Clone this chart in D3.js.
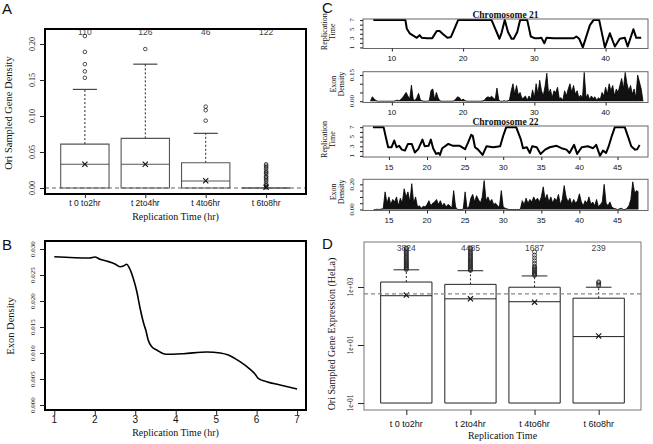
<!DOCTYPE html>
<html><head><meta charset="utf-8">
<script src="https://cdn.jsdelivr.net/npm/d3@7"></script>
<style>body{margin:0;background:#fff}svg{display:block}</style>
</head><body>
<svg id="c" width="653" height="444"></svg>
<script>
// ---------------- DATA ----------------
const timeCats = ["t 0 to2hr","t 2to4hr","t 4to6hr","t 6to8hr"];

// Panel A: Ori sampled gene density boxplots
const aCounts = ["110","126","46","122"];
const aQ1 = [0, 0, 0, 0];
const aMedian = [0.033, 0.033, 0.0097, 0];
const aQ3 = [0.061, 0.069, 0.035, 0];
const aWhiskHi = [0.137, 0.172, 0.076, 0];
const aMean = [0.033, 0.033, 0.010, 0.001];
const aOutliers = [
  [0.153, 0.162, 0.172, 0.189, 0.211],
  [0.193],
  [0.0935, 0.108, 0.113],
  [0.001, 0.003, 0.004, 0.006, 0.009, 0.011, 0.013, 0.015, 0.016, 0.019, 0.021, 0.022, 0.024, 0.027, 0.029, 0.031, 0.033]
];
const aYTicks = [0, 0.05, 0.10, 0.15, 0.20];

// Panel B: exon density vs replication time
const bTime = [1.0, 1.88, 2.0, 2.13, 2.29, 2.5, 2.62, 2.71, 2.79, 2.85, 2.95, 3.04, 3.12, 3.22, 3.26, 3.32, 3.41, 3.53, 3.76, 4.19, 4.77, 5.1, 5.3, 5.59, 5.84, 5.96, 6.04, 6.25, 6.58, 7.0];
const bDensity = [0.02852, 0.02827, 0.02846, 0.02802, 0.02769, 0.02712, 0.0266, 0.02673, 0.02706, 0.0264, 0.02437, 0.02179, 0.0186, 0.01538, 0.01442, 0.0125, 0.0112, 0.01058, 0.00975, 0.00987, 0.0102, 0.0100, 0.00962, 0.00833, 0.00686, 0.00596, 0.00513, 0.00449, 0.00385, 0.00308];
const bXTicks = [1, 2, 3, 4, 5, 6, 7];
const bYTicks = [0, 0.005, 0.010, 0.015, 0.020, 0.025, 0.030];

// Panel C: chromosome profiles  [position (Mb), replication time]
const chr21Rep = [[7.4,7],[11.9,7],[12.1,5.1],[12.5,4.1],[13.0,3.6],[13.5,3.1],[13.9,3.7],[14.2,3.1],[14.9,3.0],[15.6,3.0],[15.7,3.1],[16.3,4.6],[16.7,4.6],[17.2,3.9],[17.8,3.1],[18.3,3.3],[18.9,5.5],[19.3,7],[24.0,7],[24.5,5.1],[25.1,2.9],[25.4,4.2],[25.85,7],[26.3,4.4],[26.8,2.9],[27.1,2.9],[27.6,4.4],[28.0,7],[29.0,7],[29.5,3.4],[30.1,3.0],[30.6,3.0],[31.0,3.1],[31.4,1.9],[31.7,3.1],[32.7,3.0],[35.5,3.0],[35.9,3.4],[36.3,2.9],[36.8,1.0],[37.8,5.9],[38.3,7],[39.1,7],[39.9,1.0],[40.6,4.1],[41.3,1.2],[42.0,2.9],[42.7,3.1],[43.1,1.2],[43.9,5.0],[44.3,3.1],[45.0,3.1]];
const chr22Rep = [[12.9,7],[14.3,7],[14.6,4.9],[14.9,2.8],[15.35,2.8],[15.7,4.2],[16.0,2.8],[16.35,3.1],[16.7,2.3],[17.1,2.1],[17.5,3.5],[18.0,3.5],[18.4,1.7],[18.85,2.4],[19.4,4.4],[19.7,3.0],[20.2,3.1],[20.5,4.4],[20.8,2.6],[21.2,1.4],[21.5,1.6],[21.7,1.2],[22.0,2.6],[22.8,3.5],[23.4,3.1],[24.3,3.1],[25.0,2.4],[25.4,3.8],[25.8,5.4],[26.0,5.2],[26.3,2.8],[26.7,2.3],[27.3,1.2],[27.8,3.0],[28.7,2.8],[29.6,3.0],[30.0,5.2],[30.4,7],[31.7,7],[32.3,4.5],[32.6,2.6],[33.1,2.8],[33.5,1.6],[33.8,3.0],[34.4,2.8],[34.9,1.4],[35.5,2.3],[36.1,2.8],[37.0,3.1],[37.65,2.6],[38.3,2.3],[38.7,1.6],[39.3,3.3],[39.7,1.4],[40.3,2.8],[41.1,3.0],[41.8,2.6],[42.2,3.3],[42.7,1.0],[43.1,2.1],[43.5,1.6],[43.8,2.8],[44.2,4.9],[44.65,7],[45.95,7],[46.4,4.9],[46.8,3.0],[47.3,2.3],[47.6,2.4],[47.9,3.3]];
const exonBinStep = 0.25;
const chr21ExonStart = 7.0;
const chr21Exon = [0,0.025,0.015,0.004, 0,0,0,0, 0,0,0,0, 0,0,0.003,0.006, 0.002,0.01,0.02,0.035, 0.05,0.03,0.012,0.092, 0.01,0.004,0.02,0.045, 0.008,0.002,0,0, 0,0.003,0.062,0.07, 0.01,0.05,0.018,0.002, 0,0,0,0, 0,0,0,0.003, 0.015,0.025,0.02,0.005, 0.012,0.004,0,0, 0,0,0,0, 0,0,0,0.002, 0.005,0.02,0.025,0.02, 0.028,0.018,0.01,0.075, 0.008,0,0,0.003, 0,0.002,0.006,0.06, 0.1,0.04,0.09,0.035, 0.05,0.015,0.02,0.03, 0.005,0.03,0.01,0.065, 0.02,0.1,0.04,0.12, 0.06,0.03,0.085,0.16, 0.04,0.07,0.02,0.06, 0.05,0.08,0.015,0.02, 0.005,0.06,0.03,0.07, 0.1,0.05,0.09,0.04, 0.06,0.02,0.035,0.015, 0.165,0.02,0.04,0.01, 0.03,0.015,0.025,0.005, 0.02,0.01,0.05,0.03, 0.08,0.04,0.1,0.06, 0.09,0.03,0.07,0.05, 0.09,0.13,0.07,0.165, 0.1,0.06,0.09,0.04, 0.07,0.02,0.15,0.11, 0.07,0];
const chr22ExonStart = 13.0;
const chr22Exon = [0,0,0.002,0, 0.004,0.006,0.14,0.05, 0.1,0.04,0.08,0.06, 0.1,0.03,0.09,0.05, 0.165,0.1,0.14,0.06, 0.205,0.05,0.1,0.02, 0.03,0.01,0.025,0.02, 0.04,0.07,0.03,0.05, 0.06,0.08,0.04,0.07, 0.03,0.05,0.02,0.04, 0.03,0.01,0.15,0.02, 0,0,0,0.002, 0.14,0.01,0.02,0.09, 0.12,0.06,0.11,0.08, 0.05,0.1,0.23,0.07, 0.1,0.06,0.08,0.04, 0.05,0.03,0.02,0.15, 0.02,0.01,0.005,0, 0,0,0,0, 0,0.002,0.07,0.04, 0.09,0.05,0.08,0.06, 0.1,0.07,0.09,0.06, 0.1,0.18,0.08,0.12, 0.06,0.1,0.05,0.09, 0.07,0.12,0.04,0.08, 0.19,0.1,0.06,0.09, 0.04,0.08,0.05,0.07, 0.125,0.06,0.03,0.07, 0.05,0.1,0.04,0.06, 0.03,0.08,0.02,0.04, 0.06,0.2,0.05,0.03, 0.06,0.02,0.01,0.005, 0,0.005,0.01,0, 0,0.01,0.03,0.08, 0.22,0.13,0.15,0.14];
const chr21XTicks = [10, 20, 30, 40];
const chr22XTicks = [15, 20, 25, 30, 35, 40, 45];
const repYTicks = [1, 2, 3, 4, 5, 6, 7];
const repYLabels = [1, 3, 5, 7];
const chr21ExonTicks = [0, 0.05, 0.10, 0.15];
const chr21ExonLabels = [0, 0.15];
const chr22ExonTicks = [0, 0.05, 0.10, 0.15, 0.20];
const chr22ExonLabels = [0, 0.20];

// Panel D: Ori sampled gene expression (HeLa), log scale
const dCounts = ["3824","4485","1687","239"];
const dQ1 = [0.1, 0.1, 0.1, 0.1];
const dMedian = [500, 390, 310, 19.5];
const dQ3 = [1480, 1230, 980, 410];
const dWhiskHi = [3900, 3630, 2400, 980];
const dMean = [525, 390, 300, 20.4];
const dOutliers = [
  [4000,4300,4600,5000,5400,5800,6300,6800,7400,8000,8700,9500,10500,11500,12700,14000,15500,17000,19000,21000,22000],
  [3700,4000,4300,4700,5100,5500,6000,6500,7100,7800,8500,9300,10200,11200,12400,13700,15200,17000,19000,21000,22000],
  [2500,2700,2900,3100,3400,3700,4000,4400,4800,5300,6500,8000,10000,12500,16000],
  [1120,1250,1400,1500]
];
const dYTicks = [0.1, 10, 1000];
const dYLabels = ["1e-01","1e+01","1e+03"];
const dRefLine = 575;

// ---------------- DRAWING ----------------
const svg = d3.select("#c");
const SANS = "'Liberation Sans', Arial, sans-serif";
const SERIF = "'Liberation Serif', 'Times New Roman', serif";

function text(g, x, y, s, size, fam, anchor, weight) {
  return g.append("text").attr("x", x).attr("y", y).text(s)
    .attr("font-family", fam).attr("font-size", size)
    .attr("text-anchor", anchor || "middle").attr("font-weight", weight || "normal").attr("fill", "#111");
}
function rtext(g, x, y, s, size, fam) {
  return g.append("text").attr("transform", `translate(${x},${y}) rotate(-90)`).text(s)
    .attr("font-family", fam).attr("font-size", size).attr("text-anchor", "middle").attr("fill", "#111");
}
function frame(g, x0, y0, x1, y1, w, col) {
  g.append("rect").attr("x", x0).attr("y", y0).attr("width", x1 - x0).attr("height", y1 - y0)
    .attr("fill", "none").attr("stroke", col).attr("stroke-width", w);
}
function tickAxis(g, axis, tx, ty) {
  g.append("g").attr("transform", `translate(${tx},${ty})`).call(axis)
    .call(a => a.select(".domain").remove())
    .call(a => a.selectAll(".tick line").attr("stroke", "#222"));
}
function letter(s, x, y) { text(svg, x, y, s, 15, SANS, "start"); }

function boxplots(g, xs, ys, cats, q1, med, q3, whi, mean, outl, st) {
  const bw = xs.step() * 0.8;
  cats.forEach((c, i) => {
    const cx = xs(c);
    if (whi[i] > q3[i]) {
      g.append("line").attr("x1", cx).attr("x2", cx).attr("y1", ys(q3[i])).attr("y2", ys(whi[i]))
        .attr("stroke", "#222").attr("stroke-dasharray", "2,2").attr("stroke-width", 1);
      g.append("line").attr("x1", cx - bw / 4).attr("x2", cx + bw / 4).attr("y1", ys(whi[i])).attr("y2", ys(whi[i]))
        .attr("stroke", "#222").attr("stroke-width", 1);
    }
    const x0 = cx - bw / 2, x1 = cx + bw / 2, yT = ys(q3[i]), yB = ys(q1[i]);
    g.append("path").attr("d", `M${x0},${yT}H${x1}V${yB}H${x0}Z`)
      .attr("fill", "none").attr("stroke", st.box).attr("stroke-width", st.bw);
    g.append("line").attr("x1", x0).attr("x2", x1).attr("y1", ys(med[i])).attr("y2", ys(med[i]))
      .attr("stroke", st.box).attr("stroke-width", st.bw);
    outl[i].forEach(v => {
      g.append("circle").attr("cx", cx).attr("cy", ys(v)).attr("r", st.r)
        .attr("fill", "none").attr("stroke", "#222").attr("stroke-width", 0.8);
    });
    const my = ys(mean[i]), m = 2.6;
    g.append("path").attr("d", `M${cx - m},${my - m}L${cx + m},${my + m}M${cx - m},${my + m}L${cx + m},${my - m}`)
      .attr("stroke", "#111").attr("stroke-width", 1.1);
  });
}

// ===== Panel A =====
(function () {
  const g = svg.append("g");
  const xA = d3.scalePoint().domain(timeCats).range([45, 306]).padding(0.66);
  const yA = d3.scaleLinear().domain([-0.0083, 0.2208]).range([194, 29]);
  g.append("line").attr("x1", 45).attr("x2", 306).attr("y1", yA(0)).attr("y2", yA(0))
    .attr("stroke", "#999").attr("stroke-width", 1.3).attr("stroke-dasharray", "4,3");
  boxplots(g, xA, yA, timeCats, aQ1, aMedian, aQ3, aWhiskHi, aMean, aOutliers, { box: "#555", bw: 1.1, r: 1.8 });
  timeCats.forEach((c, i) => { text(g, xA(c), 35, aCounts[i], 8.5, SANS).attr("fill", "#444"); });
  frame(g, 45, 29, 306, 194, 2, "#000");
  tickAxis(g, d3.axisLeft(yA).tickValues(aYTicks).tickSize(5).tickFormat(""), 45, 0);
  tickAxis(g, d3.axisBottom(xA).tickSize(4).tickFormat(""), 0, 194);
  aYTicks.forEach(v => rtext(g, 35, yA(v), d3.format(".2f")(v), 8, SERIF));
  timeCats.forEach(c => text(g, xA(c), 206, c, 8.5, SANS));
  text(g, 175.5, 220, "Replication Time (hr)", 10, SERIF);
  rtext(g, 12, 113, "Ori Sampled Gene Density", 10.5, SERIF);
  letter("A", 2, 14);
})();

// ===== Panel B =====
(function () {
  const g = svg.append("g");
  const xB = d3.scaleLinear().domain([0.77, 7.22]).range([45, 306]);
  const yB = d3.scaleLinear().domain([-0.00096, 0.03154]).range([410, 241]);
  const line = d3.line().x((d, i) => xB(bTime[i])).y(d => yB(d)).curve(d3.curveMonotoneX);
  g.append("path").attr("d", line(bDensity)).attr("fill", "none").attr("stroke", "#000").attr("stroke-width", 1.6);
  frame(g, 45, 241, 306, 410, 2, "#000");
  tickAxis(g, d3.axisLeft(yB).tickValues(bYTicks).tickSize(5).tickFormat(""), 45, 0);
  tickAxis(g, d3.axisBottom(xB).tickValues(bXTicks).tickSize(5).tickFormat(""), 0, 410);
  bYTicks.forEach(v => rtext(g, 35, yB(v), d3.format(".3f")(v), 7, SERIF));
  bXTicks.forEach(v => text(g, xB(v), 423, String(v), 10, SANS));
  text(g, 175.5, 436, "Replication Time (hr)", 10, SERIF);
  rtext(g, 14, 326, "Exon Density", 10.5, SERIF);
  letter("B", 2, 250);
})();

// ===== Panel C =====
function chromPanel(opts) {
  const g = svg.append("g");
  const x = d3.scaleLinear().domain(opts.xdom).range([363, 648]);
  // replication
  const yR = d3.scaleLinear().domain([0.76, 7.24]).range([opts.rb, opts.rt]);
  g.append("path").attr("d", d3.line().x(d => x(d[0])).y(d => yR(d[1]))(opts.rep))
    .attr("fill", "none").attr("stroke", "#000").attr("stroke-width", 2).attr("stroke-linejoin", "round");
  frame(g, 363, opts.rt, 648, opts.rb, 1, "#666");
  tickAxis(g, d3.axisLeft(yR).tickValues(repYTicks).tickSize(3).tickFormat(""), 363, 0);
  tickAxis(g, d3.axisBottom(x).tickValues(opts.xt).tickSize(3).tickFormat(""), 0, opts.rb);
  repYLabels.forEach(v => rtext(g, 353.5, yR(v), String(v), 7, SERIF));
  opts.xt.forEach(v => text(g, x(v), opts.rb + 12.5, String(v), 8, SANS));
  text(g, 505.5, opts.rt - 1.5, opts.title, 9.5, SERIF, "middle", "bold");
  rtext(g, 327, (opts.rt + opts.rb) / 2 - 2, "Replication", 8, SERIF);
  rtext(g, 335, (opts.rt + opts.rb) / 2 - 2, "Time", 8, SERIF);
  // exon density
  const yE = d3.scaleLinear().domain(opts.edom).range([opts.eb, opts.et]);
  const ex = (d, i) => x(opts.estart + i * exonBinStep);
  const gp = g.append("g");
  gp.append("path").attr("d", d3.area().x(ex).y0(yE(0)).y1(d => yE(d))(opts.exon))
    .attr("fill", "#111").attr("stroke", "none");
  gp.append("path").attr("d", d3.line().x(ex).y(d => yE(d))(opts.exon))
    .attr("fill", "none").attr("stroke", "#000").attr("stroke-width", 0.8);
  frame(g, 363, opts.et, 648, opts.eb, 1, "#666");
  tickAxis(g, d3.axisLeft(yE).tickValues(opts.eticks).tickSize(3).tickFormat(""), 363, 0);
  tickAxis(g, d3.axisBottom(x).tickValues(opts.xt).tickSize(3).tickFormat(""), 0, opts.eb);
  opts.elabels.forEach(v => rtext(g, 353.5, yE(v), d3.format(".2f")(v), 7, SERIF));
  opts.xt.forEach(v => text(g, x(v), opts.eb + 12.5, String(v), 8, SANS));
  rtext(g, 336, (opts.et + opts.eb) / 2 - 3, "Exon", 8, SERIF);
  rtext(g, 344, (opts.et + opts.eb) / 2 - 3, "Density", 8, SERIF);
}
chromPanel({ xdom: [5.95, 45.95], rep: chr21Rep, rt: 19, rb: 48.5, xt: chr21XTicks, title: "Chromosome 21",
  exon: chr21Exon, estart: chr21ExonStart, edom: [-0.0075, 0.169], et: 71.7, eb: 102.5, eticks: chr21ExonTicks, elabels: chr21ExonLabels });
chromPanel({ xdom: [11.6, 49.0], rep: chr22Rep, rt: 126, rb: 157, xt: chr22XTicks, title: "Chromosome 22",
  exon: chr22Exon, estart: chr22ExonStart, edom: [-0.008, 0.24], et: 179.3, eb: 210.5, eticks: chr22ExonTicks, elabels: chr22ExonLabels });
letter("C", 322, 13);

// ===== Panel D =====
(function () {
  const g = svg.append("g");
  const xD = d3.scalePoint().domain(timeCats).range([364, 641]).padding(0.66);
  const yD = d3.scaleLog().domain([Math.pow(10, -1.24), Math.pow(10, 4.55)]).range([410, 242]);
  boxplots(g, xD, yD, timeCats, dQ1, dMedian, dQ3, dWhiskHi, dMean, dOutliers, { box: "#222", bw: 1, r: 2 });
  g.append("line").attr("x1", 364).attr("x2", 641).attr("y1", yD(dRefLine)).attr("y2", yD(dRefLine))
    .attr("stroke", "#888").attr("stroke-width", 1.2).attr("stroke-dasharray", "4,3");
  timeCats.forEach((c, i) => { text(g, xD(c), 251, dCounts[i], 8.5, SANS).attr("fill", "#444"); });
  frame(g, 364, 242, 641, 410, 1, "#777");
  tickAxis(g, d3.axisLeft(yD).tickValues(dYTicks).tickSize(6).tickFormat(""), 364, 0);
  tickAxis(g, d3.axisBottom(xD).tickSize(5).tickFormat(""), 0, 410);
  dYTicks.forEach((v, i) => rtext(g, 352.5, yD(v), dYLabels[i], 7.5, SERIF));
  timeCats.forEach(c => text(g, xD(c), 426.5, c, 9, SANS));
  text(g, 502.5, 439, "Replication Time", 10, SERIF);
  rtext(g, 335, 334, "Ori Sampled Gene Expression (HeLa)", 10, SERIF);
  letter("D", 322, 249);
})();
</script>
</body></html>
